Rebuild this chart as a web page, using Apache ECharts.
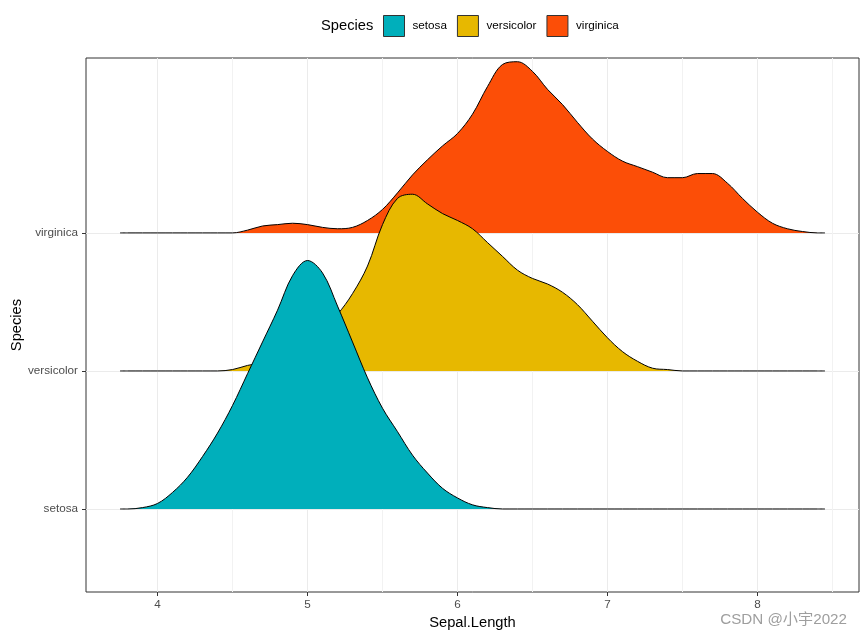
<!DOCTYPE html>
<html>
<head>
<meta charset="utf-8">
<title>Sepal.Length by Species</title>
<script src="https://cdn.jsdelivr.net/npm/echarts@6/dist/echarts.min.js"></script>
<style>
    html, body { margin: 0; padding: 0; background: #fff; }
    #main { width: 866px; height: 637px; }
</style>
</head>
<body>
<div id="main"></div>
<script type="text/javascript">
    // data: heights are in row units above each baseline
    var species = ['setosa', 'versicolor', 'virginica'];
    var colors = ['#00AFBB', '#E7B800', '#FC4E07'];
    var xTicks = [4, 5, 6, 7, 8];
    var xMinor = [4.5, 5.5, 6.5, 7.5, 8.5];
    var yTicks = [1, 2, 3];
    var xs = [3.75, 3.8, 3.9, 4.0, 4.1, 4.2, 4.3, 4.4, 4.5, 4.6, 4.7, 4.8, 4.9,
        5.0, 5.1, 5.2, 5.3, 5.4, 5.5, 5.6, 5.7, 5.8, 5.9, 6.0, 6.1, 6.2, 6.3,
        6.4, 6.5, 6.6, 6.7, 6.8, 6.9, 7.0, 7.1, 7.2, 7.3, 7.4, 7.5, 7.6, 7.7,
        7.8, 7.9, 8.0, 8.1, 8.2, 8.3, 8.4, 8.45];
    var setosa = [0, 0, 0.01, 0.04, 0.12, 0.23, 0.38, 0.55, 0.75, 0.98, 1.21, 1.44, 1.69,
        1.80, 1.71, 1.47, 1.21, 0.95, 0.73, 0.56, 0.39, 0.26, 0.15, 0.08, 0.03, 0.01, 0,
        0, 0, 0, 0, 0, 0, 0, 0, 0, 0, 0, 0, 0, 0,
        0, 0, 0, 0, 0, 0, 0, 0];
    var versicolor = [0, 0, 0, 0, 0, 0, 0, 0, 0.01, 0.04, 0.06, 0.09, 0.14,
        0.21, 0.30, 0.41, 0.56, 0.76, 1.06, 1.25, 1.28, 1.21, 1.14, 1.09, 1.03, 0.93, 0.83,
        0.73, 0.67, 0.63, 0.57, 0.48, 0.36, 0.24, 0.14, 0.07, 0.02, 0.01, 0, 0, 0,
        0, 0, 0, 0, 0, 0, 0, 0];
    var virginica = [0, 0, 0, 0, 0, 0, 0, 0, 0, 0.02, 0.05, 0.06, 0.07,
        0.06, 0.04, 0.03, 0.04, 0.09, 0.17, 0.29, 0.42, 0.53, 0.63, 0.72, 0.86, 1.06, 1.22,
        1.24, 1.17, 1.04, 0.93, 0.80, 0.68, 0.59, 0.52, 0.48, 0.44, 0.40, 0.40, 0.43, 0.43,
        0.36, 0.25, 0.15, 0.07, 0.03, 0.01, 0, 0];
    var heights = [setosa, versicolor, virginica];

    var font = 'Liberation Sans, Arial, sans-serif';
    var xMin = 3.523, xMax = 8.677;
    var yMin = 0.3986, yMax = 4.267;

    var myChart = echarts.init(document.getElementById('main'));

    // upper rows first so the lower ridges sit in front
    var series = [];
    for (var k = species.length - 1; k >= 0; k--) {
        var pts = [];
        for (var i = 0; i < xs.length; i++) {
            pts.push([xs[i], k + 1 + heights[k][i]]);
        }
        series.push({
            name: species[k],
            type: 'line',
            data: pts,
            smooth: 0.35,
            symbol: 'none',
            lineStyle: {color: '#000', width: 1},
            itemStyle: {color: colors[k]},
            areaStyle: {color: colors[k], opacity: 1, origin: k + 1},
            z: 2 + (species.length - k)
        });
    }

    var option = {
        animation: false,
        textStyle: {fontFamily: font},
        title: {
            text: 'Species',
            left: 321,
            top: 18.5,
            padding: 0,
            textStyle: {fontSize: 14.7, fontWeight: 'normal', color: '#000', fontFamily: font}
        },
        legend: {
            data: species,
            left: 383,
            top: 15,
            padding: 0,
            icon: 'rect',
            itemWidth: 21,
            itemHeight: 21,
            itemGap: 10,
            itemStyle: {borderColor: '#333', borderWidth: 1},
            textStyle: {fontSize: 11.7, color: '#000', fontFamily: font, padding: [2, 0, 0, 3]}
        },
        grid: {
            left: 86,
            right: 7,
            top: 58,
            bottom: 45,
            outerBoundsMode: 'none',
            containLabel: false,
            show: true,
            borderColor: '#333',
            borderWidth: 1,
            backgroundColor: 'transparent'
        },
        xAxis: [{
            type: 'value',
            min: xMin,
            max: xMax,
            name: 'Sepal.Length',
            nameLocation: 'middle',
            nameGap: 22,
            nameTextStyle: {fontSize: 14.7, color: '#000', fontFamily: font},
            axisLine: {show: false},
            axisTick: {show: true, length: 4, customValues: xTicks, lineStyle: {color: '#333'}},
            axisLabel: {customValues: xTicks, margin: 7, fontSize: 11.7, color: '#4D4D4D', fontFamily: font},
            splitLine: {show: true, lineStyle: {color: '#EBEBEB', width: 1}}
        }, {
            type: 'value',
            min: xMin,
            max: xMax,
            position: 'top',
            axisLine: {show: false},
            axisTick: {show: false, customValues: xMinor},
            axisLabel: {show: false, customValues: xMinor},
            splitLine: {show: true, lineStyle: {color: '#F2F2F2', width: 1}}
        }],
        yAxis: {
            type: 'value',
            min: yMin,
            max: yMax,
            name: 'Species',
            nameLocation: 'middle',
            nameGap: 62,
            nameMoveOverlap: false,
            nameTextStyle: {fontSize: 14.7, color: '#000', fontFamily: font},
            axisLine: {show: false},
            axisTick: {show: true, length: 4, customValues: yTicks, lineStyle: {color: '#333'}},
            axisLabel: {
                customValues: yTicks,
                margin: 8,
                fontSize: 11.7,
                color: '#4D4D4D',
                fontFamily: font,
                formatter: function (v) { return species[Math.round(v) - 1]; }
            },
            splitLine: {show: true, lineStyle: {color: '#EBEBEB', width: 1}}
        },
        graphic: [{
            type: 'text',
            right: 19,
            top: 612,
            style: {
                text: 'CSDN @小宇2022',
                fontSize: 15.2,
                fontFamily: 'Liberation Sans, Noto Sans CJK SC, sans-serif',
                fill: '#9E9E9E'
            }
        }],
        series: series
    };
    myChart.setOption(option);
</script>
</body>
</html>
